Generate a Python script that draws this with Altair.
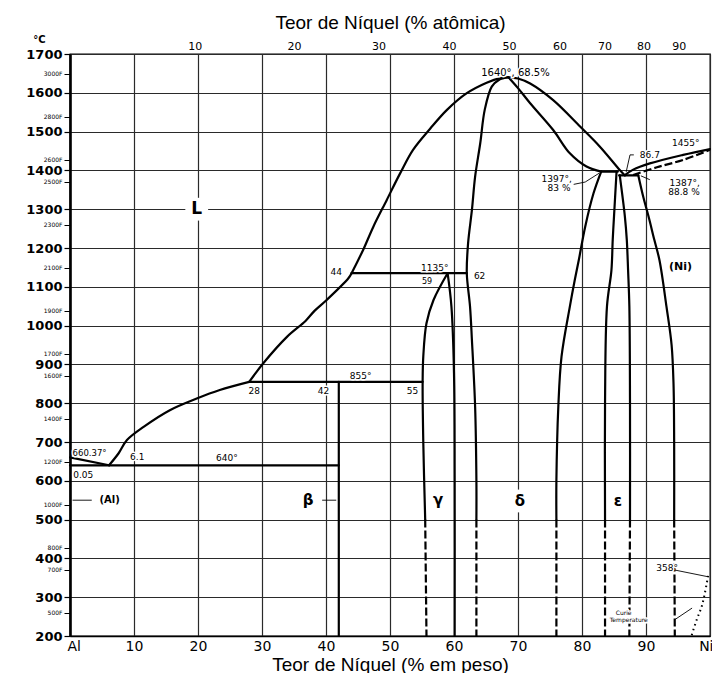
import altair as alt
import pandas as pd

# ---------------- axis values ----------------
wt_ticks = [0, 10, 20, 30, 40, 50, 60, 70, 80, 90, 100]
wt_labels = ["Al", "10", "20", "30", "40", "50", "60", "70", "80", "90", "Ni"]
temp_ticks = [200, 300, 400, 500, 600, 700, 800, 900, 1000, 1100, 1200, 1300, 1400, 1500, 1600, 1700]
at_pos = [19.5, 35.0, 48.2, 59.2, 68.6, 76.5, 83.5, 89.6, 95.1]
at_labels = ["10", "20", "30", "40", "50", "60", "70", "80", "90"]
f_pos = [1649, 1538, 1427, 1371, 1260, 1149, 1038, 927, 871, 760, 649, 538, 427, 371, 260]
f_labels = ["3000F", "2800F", "2600F", "2500F", "2300F", "2100F", "1900F", "1700F",
            "1600F", "1400F", "1200F", "1000F", "800F", "700F", "500F"]

# ---------------- phase boundaries (wt% Ni, °C) ----------------
liq_al = [(0, 660.4), (6.1, 640)]
liq_hypo = [(6.1, 640), (7.6, 671), (8.9, 705), (11.5, 739), (15.6, 782), (19.8, 812), (23.4, 834), (28.0, 855)]
liq_mid = [(28.0, 855), (30.2, 903), (33.9, 971), (36.8, 1012), (38.2, 1038), (40.1, 1066), (43.5, 1122), (44.0, 1135)]
liq_up = [(44.0, 1135), (45.8, 1195), (47.4, 1255), (49.5, 1324), (51.6, 1393), (53.6, 1453),
          (56.3, 1508), (58.9, 1556), (62.0, 1599), (65.1, 1626), (67.2, 1638), (68.5, 1640)]
liq_right = [(68.5, 1640), (70.0, 1637), (71.9, 1624), (75.5, 1581), (79.7, 1513), (82.8, 1461),
             (85.9, 1401), (86.7, 1387)]
sol_delta = [(68.5, 1640), (70.0, 1612), (71.9, 1573), (75.5, 1504), (78.1, 1444), (80.7, 1410), (83.0, 1397)]
delta_left = [(68.5, 1640), (67.0, 1633), (65.9, 1616), (64.8, 1556), (64.1, 1470), (63.3, 1384), (62.8, 1298),
              (62.2, 1212), (62.0, 1135), (62.5, 1050), (62.8, 963), (63.3, 791), (63.5, 602), (63.5, 500)]
delta_right = [(83.0, 1397), (81.8, 1341), (80.5, 1255), (79.5, 1169), (78.9, 1120), (78.1, 1049),
               (76.8, 920), (76.3, 791), (76.0, 600), (76.0, 500)]
gamma_left = [(59.0, 1135), (56.8, 1066), (55.7, 1006), (55.2, 920), (55.1, 855), (55.2, 700), (55.5, 500)]
gamma_right = [(59.0, 1135), (59.6, 1049), (60.0, 878), (60.1, 600), (60.1, 200)]
beta_line = [(42.0, 855), (42.0, 200)]
eps_left = [(85.4, 1397), (85.0, 1281), (84.8, 1221), (84.6, 1143), (83.9, 1049), (83.6, 800), (83.6, 500)]
eps_right = [(85.9, 1387), (86.7, 1281), (87.0, 1221), (87.2, 1143), (87.4, 1049), (87.5, 800), (87.5, 500)]
ni_solvus = [(88.8, 1387), (89.6, 1330), (90.4, 1281), (91.3, 1221), (92.1, 1169), (93.2, 1049),
             (94.0, 950), (94.3, 850), (94.4, 700), (94.4, 500)]
ni_liquidus = [(86.7, 1388), (88.0, 1402), (90.6, 1418), (95.8, 1440), (100, 1455)]
iso_640 = [(0, 640), (42.0, 640)]
iso_855 = [(28.0, 855), (55.1, 855)]
iso_1135 = [(44.0, 1135), (62.0, 1135)]
iso_1397 = [(83.0, 1397), (85.6, 1397)]
iso_1387 = [(85.8, 1387), (88.8, 1387)]

# dashed parts
ni_solidus = [(88.0, 1388), (91.7, 1408), (95.8, 1427), (100, 1453)]
dash_55 = [(55.5, 500), (55.7, 200)]
dash_63 = [(63.5, 500), (63.5, 200)]
dash_76 = [(76.0, 500), (76.0, 200)]
dash_83 = [(83.6, 500), (83.6, 200)]
dash_87 = [(87.5, 500), (87.4, 200)]
dash_94 = [(94.4, 500), (94.5, 200)]

# dotted Curie curve
curie = [(99.7, 355), (99.2, 311), (98.7, 276), (97.9, 241), (97.1, 200)]

# thin leader lines
lead_al = [(0.4, 550), (3.4, 550)]
lead_beta = [(39.4, 550), (41.6, 550)]
lead_1397 = [(78.7, 1364), (80.5, 1370), (82.7, 1393)]
lead_867 = [(88.1, 1440), (87.5, 1440), (86.9, 1396)]
lead_1387 = [(90.6, 1376), (89.2, 1386)]
lead_358 = [(93.0, 375), (99.6, 353)]
lead_curie = [(94.4, 241), (97.2, 272)]

solid_curves = {
    "liq_al": liq_al, "liq_hypo": liq_hypo, "liq_mid": liq_mid, "liq_up": liq_up,
    "liq_right": liq_right, "sol_delta": sol_delta, "delta_left": delta_left,
    "delta_right": delta_right, "gamma_left": gamma_left, "gamma_right": gamma_right,
    "beta": beta_line, "eps_left": eps_left, "eps_right": eps_right,
    "ni_solvus": ni_solvus, "ni_liquidus": ni_liquidus, "iso_640": iso_640,
    "iso_855": iso_855, "iso_1135": iso_1135, "iso_1397": iso_1397, "iso_1387": iso_1387,
}
dashed_curves = {"ni_solidus": ni_solidus, "d55": dash_55, "d63": dash_63, "d76": dash_76,
                 "d83": dash_83, "d87": dash_87, "d94": dash_94}
leader_curves = {"al": lead_al, "beta": lead_beta, "l1397": lead_1397, "l867": lead_867,
                 "l1387": lead_1387, "l358": lead_358, "lcurie": lead_curie}


def frame(curves):
    rows = []
    for name, pts in curves.items():
        for i, (w, t) in enumerate(pts):
            rows.append({"name": name, "i": i, "wt": w, "T": t})
    return pd.DataFrame(rows)


# ---------------- labels ----------------
# text, wt, T, font size
labels_center = [
    ("6.1", 10.5, 662, 9), ("640°", 24.5, 660, 9), ("28", 28.8, 832, 9), ("42", 39.6, 832, 9),
    ("855°", 45.4, 870, 9), ("55", 53.5, 832, 9), ("44", 41.6, 1138, 9), ("1135°", 57.0, 1148, 9),
    ("59", 55.8, 1112, 8), ("62", 64.0, 1128, 9), ("1640°, 68.5%", 69.6, 1651, 10),
    ("86.7", 90.6, 1440, 9), ("1455°", 96.2, 1471, 9), ("358°", 93.3, 375, 9),
    ("Curie", 86.5, 260, 6), ("Temperature", 87.3, 242, 6),
]
labels_left = [("660.37°", 0.4, 672, 8.5), ("0.05", 0.5, 615, 9)]
labels_right = [("1397°,", 78.4, 1378, 9), ("83 %", 78.2, 1355, 9),
                ("1387°,", 98.4, 1367, 9), ("88.8 %", 98.4, 1345, 9)]
labels_phase = [("L", 19.8, 1300, 17), ("(Al)", 6.2, 550, 10), ("β", 37.2, 550, 15),
                ("γ", 57.5, 550, 15), ("δ", 70.3, 548, 15), ("ε", 85.6, 548, 15),
                ("(Ni)", 95.4, 1151, 11)]
label_boxes = [("L", 19.8, 1300), ("δ", 70.3, 548), ("(Ni)", 95.4, 1151)]


def lab_df(lst):
    return pd.DataFrame(lst, columns=["text", "wt", "T", "fs"])


xscale = alt.Scale(domain=[0, 100], nice=False, zero=False)
yscale = alt.Scale(domain=[200, 1700], nice=False, zero=False)


def expr(pos, labs):
    parts = [f"datum.value == {p} ? '{l}'" for p, l in zip(pos, labs)]
    return " : ".join(parts) + " : ''"


bottom_axis = alt.Axis(orient="bottom", values=wt_ticks, labelExpr=expr(wt_ticks, wt_labels),
                       grid=True, gridColor="#2a2a2a", gridWidth=1.2, tickSize=0, labelPadding=3,
                       labelFont="DejaVu Sans", labelFontSize=14, labelColor="black",
                       labelOverlap=False, labelBound=False, labelFlush=True, labelFlushOffset=3,
                       domainColor="black", domainWidth=1.3,
                       title="Teor de Níquel (% em peso)", titleFont="Liberation Sans",
                       titleFontSize=19, titleFontWeight="normal", titleColor="black", titlePadding=2)
left_axis = alt.Axis(orient="left", values=temp_ticks, format="d", grid=True, gridColor="#2a2a2a",
                     gridWidth=1.2, tickSize=6, tickColor="black", tickWidth=1.2, labelPadding=2,
                     labelFont="DejaVu Sans", labelFontSize=13, labelFontWeight="bold", labelColor="black",
                     labelOverlap=False, labelBound=False, labelFlush=False,
                     domainColor="black", domainWidth=2.6,
                     title="°C", titleAngle=0, titleX=-31, titleY=-15, titleAlign="center",
                     titleBaseline="middle", titleFont="DejaVu Sans", titleFontSize=10,
                     titleFontWeight="bold", titleColor="black")
top_axis = alt.Axis(orient="top", values=at_pos, labelExpr=expr(at_pos, at_labels), grid=False,
                    domain=False, ticks=False, labelPadding=3, labelFont="DejaVu Sans",
                    labelFontSize=11, labelColor="black", labelOverlap=False, labelFlush=False,
                    title="Teor de Níquel (% atômica)", titleFont="Liberation Sans", titleFontSize=19,
                    titleFontWeight="normal", titleColor="black", titlePadding=8)
f_axis = alt.Axis(orient="left", values=f_pos, labelExpr=expr(f_pos, f_labels), grid=False,
                  domain=False, tickSize=6, tickColor="black", tickWidth=1, labelPadding=2,
                  labelFont="DejaVu Sans", labelFontSize=6, labelColor="black",
                  labelOverlap=False, labelBound=False, labelFlush=False, title=None)


def xy(axis_x=None, axis_y=None):
    return dict(x=alt.X("wt:Q", scale=xscale, axis=axis_x), y=alt.Y("T:Q", scale=yscale, axis=axis_y))


solid = alt.Chart(frame(solid_curves)).mark_line(
    color="black", strokeWidth=2.2, interpolate="catmull-rom", strokeJoin="round", strokeCap="round"
).encode(detail="name:N", order="i:Q", **xy(bottom_axis, left_axis))

dashed = alt.Chart(frame(dashed_curves)).mark_line(
    color="black", strokeWidth=2.2, strokeDash=[8, 3], interpolate="catmull-rom"
).encode(detail="name:N", order="i:Q", **xy(top_axis, f_axis))

leaders = alt.Chart(frame(leader_curves)).mark_line(color="black", strokeWidth=0.9).encode(
    detail="name:N", order="i:Q", **xy())

curie_line = alt.Chart(frame({"curie": curie})).mark_line(
    color="black", strokeWidth=2, strokeDash=[1.5, 3.5], interpolate="catmull-rom"
).encode(order="i:Q", **xy())

boxes = alt.Chart(pd.DataFrame(label_boxes, columns=["text", "wt", "T"])).mark_point(
    shape="square", filled=True, color="white", opacity=1, size=520
).encode(**xy())


def text_layers(lst, align, weight="normal"):
    d = lab_df(lst)
    halo = alt.Chart(d).mark_text(align=align, baseline="middle", font="DejaVu Sans", fontWeight=weight,
                                  stroke="white", strokeWidth=3, fill="white").encode(
        text="text:N", size=alt.Size("fs:Q", scale=None), **xy())
    txt = alt.Chart(d).mark_text(align=align, baseline="middle", font="DejaVu Sans", fontWeight=weight,
                                 color="black").encode(
        text="text:N", size=alt.Size("fs:Q", scale=None), **xy())
    return [halo, txt]


layers = [solid, dashed, leaders, curie_line, boxes]
layers += text_layers(labels_center, "center")
layers += text_layers(labels_left, "left")
layers += text_layers(labels_right, "right")
layers += text_layers(labels_phase, "center", "bold")

chart = alt.layer(*layers).resolve_axis(x="independent", y="independent").properties(
    width=640, height=582,
    autosize=alt.AutoSizeParams(type="none"),
    padding={"left": 62, "top": 46, "right": 2, "bottom": 37},
    background="white",
).configure_view(stroke="black", strokeWidth=1.3)

chart.save("out.html", embed_options={"renderer": "svg", "actions": False})
